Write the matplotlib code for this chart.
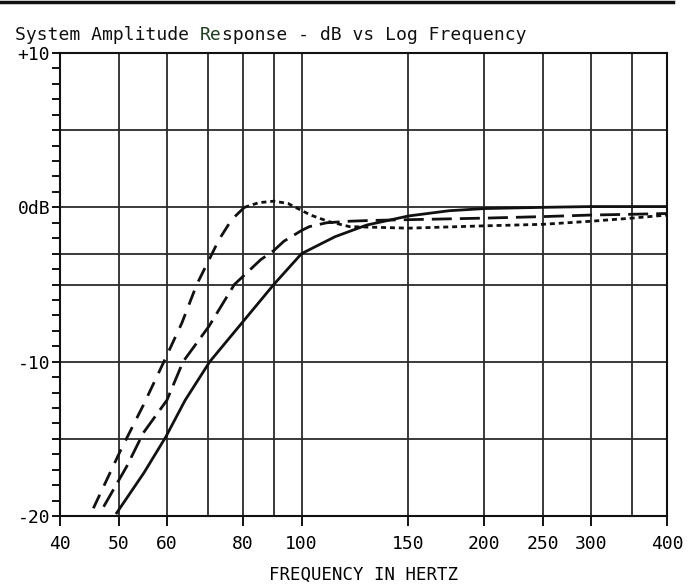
import matplotlib
matplotlib.use("Agg")
import matplotlib.pyplot as plt
from matplotlib.ticker import FixedLocator, NullLocator, FixedFormatter

plt.rcParams['font.family'] = ['DejaVu Sans Mono', 'DejaVu Sans']

# frequency (Hz) / level (dB) for the three responses
freqSolid = [49.6, 55, 59.7, 64.3, 70.6, 77.8, 90, 100, 113.6, 128, 150, 175, 200, 250, 300, 350, 400]
dbSolid = [-19.8, -17.2, -14.9, -12.5, -10.0, -8.0, -5.0, -3.0, -1.9, -1.15, -0.56, -0.22, -0.08, 0.0, 0.05, 0.05, 0.05]

freqLong = [47.2, 51.5, 54.9, 60, 63.8, 70.4, 77.5, 85.6, 90, 93.5, 100, 103, 110, 120, 130, 150, 200, 250, 300, 350, 400]
dbLong = [-19.4, -16.8, -14.6, -12.5, -10.0, -7.7, -5.0, -3.4, -2.8, -2.2, -1.5, -1.25, -1.0, -0.9, -0.85, -0.8, -0.7, -0.6, -0.5, -0.45, -0.4]

freqShort = [45.4, 50.4, 54.9, 59, 63.5, 67.2, 70.4, 73.1, 76.7, 80.5, 85, 90, 95, 98.5, 103.5, 111, 120, 150, 200, 250, 300, 350, 400]
dbShort = [-19.5, -15.7, -12.8, -10.2, -7.5, -5.0, -3.4, -2.1, -0.8, 0.0, 0.3, 0.4, 0.25, -0.07, -0.5, -0.93, -1.25, -1.35, -1.2, -1.1, -0.9, -0.7, -0.5]
shortSplit = 9  # steep part drawn dashed, plateau dotted

xTicks = [40, 50, 60, 80, 100, 150, 200, 250, 300, 400]
xTickLabels = ["40", "50", "60", "80", "100", "150", "200", "250", "300", "400"]
yTicks = [10, 0, -10, -20]
yTickLabels = ["+10", "0dB", "-10", "-20"]
gridFreqs = [50, 60, 70, 80, 90, 100, 150, 200, 250, 300, 350]
gridDb = [5, 0, -3, -5, -10, -15]

ink = "#111111"
gridInk = "#2a2a2a"

fig = plt.figure(figsize=(6.9, 5.88), dpi=100)
ax = fig.add_axes([60 / 690, 1 - 516 / 588, 607 / 690, 463 / 588])

ax.set_xscale("log")
ax.set_xlim(40, 400)
ax.set_ylim(-20, 10)

for f in gridFreqs:
    ax.axvline(f, color=gridInk, lw=1.3, zorder=1)
for d in gridDb:
    ax.axhline(d, color=gridInk, lw=1.3, zorder=1)

ax.plot(freqSolid, dbSolid, color=ink, lw=2.0, zorder=3)
ax.plot(freqLong, dbLong, color=ink, lw=2.0, dashes=(7.2, 2.9), zorder=3)
ax.plot(freqShort[:shortSplit + 1], dbShort[:shortSplit + 1], color=ink, lw=2.0,
        dashes=(5.4, 3.6), zorder=3)
ax.plot(freqShort[shortSplit:], dbShort[shortSplit:], color=ink, lw=2.0,
        dashes=(1.8, 1.4), zorder=3)

for s in ax.spines.values():
    s.set_linewidth(1.5)
    s.set_color(ink)

ax.xaxis.set_major_locator(FixedLocator(xTicks))
ax.xaxis.set_major_formatter(FixedFormatter(xTickLabels))
ax.xaxis.set_minor_locator(NullLocator())
ax.yaxis.set_major_locator(FixedLocator(yTicks))
ax.yaxis.set_major_formatter(FixedFormatter(yTickLabels))
ax.yaxis.set_minor_locator(FixedLocator(list(range(-20, 11))))

ax.tick_params(axis="x", which="major", direction="out", length=7, width=1.4,
               color=ink, labelsize=13, pad=7)
ax.tick_params(axis="y", which="both", direction="out", length=6, width=1.4,
               color=ink, labelsize=13, pad=1)

ax.set_xlabel("FREQUENCY IN HERTZ", fontsize=12.5, labelpad=9)

# title in pieces so the middle letters keep their own ink
t1 = fig.text(15 / 690, 1 - 40 / 588, "System Amplitude ", fontsize=13, color=ink)
t2 = ax.annotate("Re", xy=(1, 0), xycoords=t1, va="bottom", fontsize=13,
                 color="#1f3d1f", annotation_clip=False)
ax.annotate("sponse - dB vs Log Frequency", xy=(1, 0), xycoords=t2, va="bottom",
            fontsize=13, color=ink, annotation_clip=False)

# rule along the top of the page
fig.add_artist(plt.Line2D([0.0, 0.975], [1 - 2 / 588, 1 - 2 / 588], color=ink, lw=2.5))

fig.savefig("out.png", dpi=100, facecolor="white")
